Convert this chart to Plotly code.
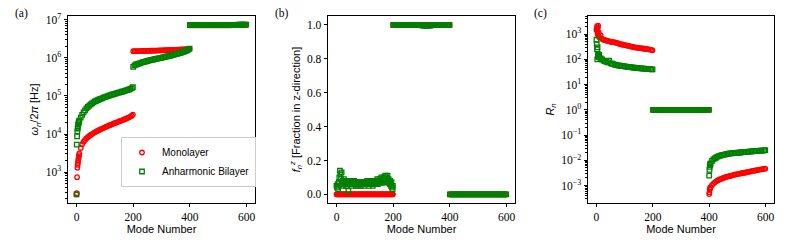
import plotly.graph_objects as go

# ---------------- data ----------------
# mode numbers for each segment
m_lo = [0, 1, 2, 3, 4, 5, 6, 7, 8, 9] + list(range(10, 200, 5)) + [199]
m_mid = list(range(200, 400, 5)) + [399]
m_hi = list(range(400, 600, 5)) + [599]
m_hi_c = [400, 401, 402, 403, 404] + list(range(405, 600, 5)) + [599]
m_b_lo = list(range(0, 200, 2)) + [199]

# (a) omega_n / 2pi [Hz]
a_mono_lo = [260, 280, 740, 1300, 1550, 1750, 2000, 2250, 2500, 2800,
             3100, 4300, 5400, 6300, 7000, 7700, 8300, 8900, 9500, 10000,
             10600, 11100, 11700, 12200, 12800, 13300, 13900, 14400, 15000, 15600,
             16200, 16800, 17400, 18000, 18700, 19300, 20000, 20700, 21400, 22100,
             22900, 23700, 24500, 25400, 26400, 27500, 28800, 30300, 32500]
a_bi_lo = [260, 5300, 8700, 11800, 14000, 15800, 17500, 19000, 20500, 21500,
           22500, 27000, 32000, 37000, 42000, 47000, 52000, 56000, 60000, 64000,
           68000, 72000, 75000, 78000, 81000, 84000, 87000, 90000, 93000, 96000,
           99000, 102000, 105000, 108000, 111000, 114000, 117000, 120000, 123000, 126000,
           129000, 132000, 136000, 140000, 144000, 148000, 153000, 160000, 170000]
a_mono_mid = [1.50e6, 1.50e6, 1.50e6, 1.51e6, 1.51e6, 1.51e6, 1.52e6, 1.52e6, 1.52e6, 1.53e6,
              1.53e6, 1.53e6, 1.54e6, 1.54e6, 1.55e6, 1.55e6, 1.56e6, 1.56e6, 1.57e6, 1.57e6,
              1.58e6, 1.58e6, 1.59e6, 1.59e6, 1.60e6, 1.60e6, 1.61e6, 1.61e6, 1.62e6, 1.62e6,
              1.63e6, 1.64e6, 1.64e6, 1.65e6, 1.66e6, 1.67e6, 1.68e6, 1.69e6, 1.70e6, 1.71e6,
              1.72e6]
a_bi_mid = [5.8e5, 6.4e5, 6.7e5, 6.9e5, 7.1e5, 7.3e5, 7.5e5, 7.7e5, 7.9e5, 8.1e5,
            8.3e5, 8.5e5, 8.7e5, 8.85e5, 9.0e5, 9.2e5, 9.4e5, 9.55e5, 9.7e5, 9.85e5,
            1.00e6, 1.03e6, 1.05e6, 1.07e6, 1.09e6, 1.11e6, 1.14e6, 1.16e6, 1.19e6, 1.22e6,
            1.25e6, 1.28e6, 1.31e6, 1.34e6, 1.38e6, 1.42e6, 1.46e6, 1.51e6, 1.57e6, 1.64e6,
            1.75e6]
a_mono_hi = [7.20e6, 7.20e6, 7.20e6, 7.20e6, 7.20e6, 7.20e6, 7.20e6, 7.20e6, 7.20e6, 7.20e6,
             7.20e6, 7.20e6, 7.20e6, 7.20e6, 7.20e6, 7.20e6, 7.20e6, 7.20e6, 7.20e6, 7.20e6,
             7.20e6, 7.20e6, 7.20e6, 7.20e6, 7.20e6, 7.20e6, 7.20e6, 7.20e6, 7.20e6, 7.20e6,
             7.21e6, 7.22e6, 7.23e6, 7.24e6, 7.25e6, 7.26e6, 7.27e6, 7.28e6, 7.29e6, 7.30e6,
             7.30e6]
a_bi_hi = [7.30e6, 7.30e6, 7.30e6, 7.30e6, 7.30e6, 7.30e6, 7.30e6, 7.30e6, 7.30e6, 7.30e6,
           7.30e6, 7.30e6, 7.30e6, 7.30e6, 7.31e6, 7.31e6, 7.31e6, 7.31e6, 7.32e6, 7.32e6,
           7.32e6, 7.32e6, 7.33e6, 7.33e6, 7.33e6, 7.34e6, 7.34e6, 7.35e6, 7.35e6, 7.36e6,
           7.37e6, 7.38e6, 7.39e6, 7.40e6, 7.41e6, 7.42e6, 7.43e6, 7.45e6, 7.47e6, 7.50e6,
           7.50e6]

# (b) fraction in z-direction
b_mono_lo = [0.00, 0.00, 0.00, 0.00, 0.00, 0.00, 0.00, 0.00, 0.00, 0.00,
             0.00, 0.00, 0.00, 0.00, 0.00, 0.00, 0.00, 0.00, 0.00, 0.00,
             0.00, 0.00, 0.00, 0.00, 0.00, 0.00, 0.00, 0.00, 0.00, 0.00,
             0.00, 0.00, 0.00, 0.00, 0.00, 0.00, 0.00, 0.00, 0.00, 0.00,
             0.00, 0.00, 0.00, 0.00, 0.00, 0.00, 0.00, 0.00, 0.00, 0.00,
             0.00, 0.00, 0.00, 0.00, 0.00, 0.00, 0.00, 0.00, 0.00, 0.00,
             0.00, 0.00, 0.00, 0.00, 0.00, 0.00, 0.00, 0.00, 0.00, 0.00,
             0.00, 0.00, 0.00, 0.00, 0.00, 0.00, 0.00, 0.00, 0.00, 0.00,
             0.00, 0.00, 0.00, 0.00, 0.00, 0.00, 0.00, 0.00, 0.00, 0.00,
             0.00, 0.00, 0.00, 0.00, 0.00, 0.00, 0.00, 0.00, 0.00, 0.00,
             0.00]
b_bi_lo = [0.05, 0.04, 0.06, 0.03, 0.07, 0.10, 0.14, 0.12, 0.09, 0.13,
           0.06, 0.08, 0.05, 0.09, 0.07, 0.06, 0.08, 0.05, 0.07, 0.06,
           0.08, 0.02, 0.07, 0.06, 0.08, 0.06, 0.07, 0.05, 0.07, 0.06,
           0.07, 0.08, 0.06, 0.07, 0.05, 0.07, 0.06, 0.07, 0.05, 0.07,
           0.06, 0.07, 0.06, 0.05, 0.07, 0.06, 0.07, 0.06, 0.07, 0.05,
           0.07, 0.06, 0.07, 0.06, 0.08, 0.06, 0.07, 0.05, 0.07, 0.06,
           0.07, 0.08, 0.06, 0.07, 0.05, 0.08, 0.06, 0.07, 0.08, 0.06,
           0.08, 0.07, 0.09, 0.06, 0.08, 0.07, 0.09, 0.07, 0.08, 0.10,
           0.07, 0.09, 0.08, 0.10, 0.07, 0.09, 0.11, 0.08, 0.10, 0.09,
           0.11, 0.08, 0.09, 0.07, 0.06, 0.08, 0.05, 0.07, 0.04, 0.03,
           0.05]
b_mono_mid = [1.0, 1.0, 1.0, 1.0, 1.0, 1.0, 1.0, 1.0, 1.0, 1.0,
              1.0, 1.0, 1.0, 1.0, 1.0, 1.0, 1.0, 1.0, 1.0, 1.0,
              1.0, 1.0, 1.0, 1.0, 1.0, 1.0, 1.0, 1.0, 1.0, 1.0,
              1.0, 1.0, 1.0, 1.0, 1.0, 1.0, 1.0, 1.0, 1.0, 1.0,
              1.0]
b_bi_mid = [1.0, 1.0, 1.0, 1.0, 1.0, 1.0, 1.0, 1.0, 1.0, 1.0,
            1.0, 1.0, 1.0, 1.0, 1.0, 1.0, 1.0, 1.0, 1.0, 1.0,
            0.998, 0.997, 0.996, 0.995, 0.995, 0.996, 0.997, 0.998, 1.0, 1.0,
            1.0, 1.0, 1.0, 1.0, 1.0, 1.0, 1.0, 1.0, 1.0, 1.0,
            1.0]
b_mono_hi = [0.0, 0.0, 0.0, 0.0, 0.0, 0.0, 0.0, 0.0, 0.0, 0.0,
             0.0, 0.0, 0.0, 0.0, 0.0, 0.0, 0.0, 0.0, 0.0, 0.0,
             0.0, 0.0, 0.0, 0.0, 0.0, 0.0, 0.0, 0.0, 0.0, 0.0,
             0.0, 0.0, 0.0, 0.0, 0.0, 0.0, 0.0, 0.0, 0.0, 0.0,
             0.0]
b_bi_hi = [0.0, 0.0, 0.0, 0.0, 0.0, 0.0, 0.0, 0.0, 0.0, 0.0,
           0.0, 0.0, 0.0, 0.0, 0.0, 0.0, 0.0, 0.0, 0.0, 0.0,
           0.0, 0.0, 0.0, 0.0, 0.0, 0.0, 0.0, 0.0, 0.0, 0.0,
           0.0, 0.0, 0.0, 0.0, 0.0, 0.0, 0.0, 0.0, 0.0, 0.0,
           0.0]

# (c) R_n
c_mono_lo = [1500, 1700, 2100, 1300, 1000, 1800, 2200, 900, 1200, 800,
             750, 900, 650, 600, 580, 560, 540, 520, 500, 490,
             480, 470, 460, 440, 420, 400, 390, 380, 370, 360,
             350, 340, 330, 320, 310, 300, 295, 290, 285, 280,
             275, 270, 265, 260, 255, 250, 245, 240, 230]
c_bi_lo = [600, 400, 250, 100, 300, 130, 160, 150, 140, 120,
           150, 110, 100, 90, 85, 80, 76, 90, 70, 68,
           65, 62, 60, 58, 57, 56, 55, 54, 53, 52,
           51, 50, 49, 48, 47, 47, 46, 45, 45, 44,
           44, 43, 43, 42, 42, 41, 41, 40, 40]
c_mono_mid = [1.0, 1.0, 1.0, 1.0, 1.0, 1.0, 1.0, 1.0, 1.0, 1.0,
              1.0, 1.0, 1.0, 1.0, 1.0, 1.0, 1.0, 1.0, 1.0, 1.0,
              1.0, 1.0, 1.0, 1.0, 1.0, 1.0, 1.0, 1.0, 1.0, 1.0,
              1.0, 1.0, 1.0, 1.0, 1.0, 1.0, 1.0, 1.0, 1.0, 1.0,
              1.0]
c_bi_mid = [1.0, 1.0, 1.0, 1.0, 1.0, 1.0, 1.0, 1.0, 1.0, 1.0,
            1.0, 1.0, 1.0, 1.0, 1.0, 1.0, 1.0, 1.0, 1.0, 1.0,
            1.0, 1.0, 1.0, 1.0, 1.0, 1.0, 1.0, 1.0, 1.0, 1.0,
            1.0, 1.0, 1.0, 1.0, 1.0, 1.0, 1.0, 1.0, 1.0, 1.0,
            1.0]
c_mono_hi = [4.6e-4, 5.5e-4, 7.0e-4, 7.8e-4, 8.2e-4,
             8.5e-4, 1.05e-3, 1.2e-3, 1.35e-3, 1.48e-3, 1.6e-3, 1.7e-3, 1.8e-3, 1.9e-3, 2.0e-3,
             2.1e-3, 2.2e-3, 2.28e-3, 2.35e-3, 2.42e-3, 2.5e-3, 2.6e-3, 2.7e-3, 2.78e-3, 2.85e-3,
             2.92e-3, 3.0e-3, 3.08e-3, 3.15e-3, 3.22e-3, 3.3e-3, 3.4e-3, 3.5e-3, 3.6e-3, 3.7e-3,
             3.8e-3, 3.9e-3, 4.0e-3, 4.1e-3, 4.2e-3, 4.3e-3, 4.4e-3, 4.5e-3, 4.6e-3, 4.7e-3]
c_bi_hi = [2.5e-3, 4.2e-3, 5.5e-3, 6.5e-3, 7.0e-3,
           7.5e-3, 9.5e-3, 1.1e-2, 1.2e-2, 1.3e-2, 1.4e-2, 1.48e-2, 1.55e-2, 1.6e-2, 1.65e-2,
           1.7e-2, 1.75e-2, 1.8e-2, 1.85e-2, 1.88e-2, 1.9e-2, 1.93e-2, 1.95e-2, 1.98e-2, 2.0e-2,
           2.03e-2, 2.05e-2, 2.08e-2, 2.1e-2, 2.13e-2, 2.15e-2, 2.18e-2, 2.2e-2, 2.23e-2, 2.25e-2,
           2.28e-2, 2.3e-2, 2.33e-2, 2.35e-2, 2.38e-2, 2.4e-2, 2.43e-2, 2.45e-2, 2.5e-2, 2.55e-2]

series_names = ["Monolayer", "Anharmonic Bilayer"]
panel_labels = ["(a)", "(b)", "(c)"]
x_title = "Mode Number"
y_titles = ["<i>ω<sub>n</sub></i>/2<i>π</i> [Hz]",
            "<i>f</i><sub><i>n</i></sub><sup><i>z</i></sup> [Fraction in z-direction]",
            "<i>R<sub>n</sub></i>"]
a_decades = [3, 4, 5, 6, 7]
c_decades = [-3, -2, -1, 0, 1, 2, 3]
b_ticks = [0.0, 0.2, 0.4, 0.6, 0.8, 1.0]
x_ticks = [0, 200, 400, 600]

# ---------------- styling ----------------
W, H = 789, 243
RED = "#ff0000"
GREEN = "#008000"
SERIF = "Liberation Serif, DejaVu Serif, serif"
SANS = "Liberation Sans, DejaVu Sans, sans-serif"

fig = go.Figure()


def px2x(p):
    return p / W


def px2y(p):
    return 1 - p / H


panels_px = [(68, 255), (328, 515), (588, 774)]
top_px, bot_px = 16, 203


def add(xs, ys, k, series, showlegend=False):
    symbol = "circle-open" if series == 0 else "square-open"
    color = RED if series == 0 else GREEN
    fig.add_trace(go.Scatter(
        x=xs, y=ys, mode="markers", name=series_names[series],
        legendgroup=series_names[series], showlegend=showlegend,
        marker=dict(symbol=symbol, size=4.5, color=color, line=dict(width=1.3, color=color)),
        xaxis="x" if k == 0 else f"x{k+1}", yaxis="y" if k == 0 else f"y{k+1}",
    ))


# panel a
add(m_lo, a_mono_lo, 0, 0, True)
add(m_mid, a_mono_mid, 0, 0)
add(m_hi, a_mono_hi, 0, 0)
add(m_lo, a_bi_lo, 0, 1, True)
add(m_mid, a_bi_mid, 0, 1)
add(m_hi, a_bi_hi, 0, 1)
# panel b
add(m_b_lo, b_mono_lo, 1, 0)
add(m_mid, b_mono_mid, 1, 0)
add(m_hi, b_mono_hi, 1, 0)
add(m_b_lo, b_bi_lo, 1, 1)
add(m_mid, b_bi_mid, 1, 1)
add(m_hi, b_bi_hi, 1, 1)
# panel c
add(m_lo, c_mono_lo, 2, 0)
add(m_mid, c_mono_mid, 2, 0)
add(m_hi_c, c_mono_hi, 2, 0)
add(m_lo, c_bi_lo, 2, 1)
add(m_mid, c_bi_mid, 2, 1)
add(m_hi_c, c_bi_hi, 2, 1)

axis_common = dict(showline=True, linecolor="black", linewidth=0.8, mirror=True,
                   ticks="outside", ticklen=3.5, tickwidth=0.8, tickcolor="black",
                   showgrid=False, zeroline=False, automargin=False,
                   tickfont=dict(family=SERIF, size=11.5, color="black"))


def pow_label(e):
    s = str(e).replace("-", "\u2212")
    return f"10<sup>{s}</sup>"


def minor_vals(decades_lo, decades_hi):
    vals = []
    for e in range(decades_lo, decades_hi + 1):
        for d in range(2, 10):
            vals.append(d * 10.0 ** e)
    return vals


layout = dict(width=W, height=H, margin=dict(l=0, r=0, t=0, b=0, autoexpand=False),
              paper_bgcolor="white", plot_bgcolor="white", showlegend=True,
              legend=dict(x=px2x(121), y=px2y(137), xanchor="left", yanchor="top",
                          bgcolor="white", bordercolor="#cccccc", borderwidth=1,
                          font=dict(family=SANS, size=10, color="black"),
                          itemwidth=30, tracegroupgap=0))

yranges = [[2.19, 7.10], [-0.051, 1.053], [-3.69, 3.72]]
for k, (l, r) in enumerate(panels_px):
    xs = "xaxis" if k == 0 else f"xaxis{k+1}"
    ys = "yaxis" if k == 0 else f"yaxis{k+1}"
    ya = "y" if k == 0 else f"y{k+1}"
    xa = "x" if k == 0 else f"x{k+1}"
    layout[xs] = dict(axis_common, domain=[px2x(l), px2x(r)], range=[-30, 630],
                      tickvals=x_ticks, anchor=ya,
                      title=dict(text=x_title, font=dict(family=SANS, size=11, color="black"),
                                 standoff=3))
    yd = dict(axis_common, domain=[px2y(bot_px), px2y(top_px)], range=yranges[k], anchor=xa,
              title=dict(text=y_titles[k], font=dict(family=SANS, size=11, color="black"),
                         standoff=4))
    if k == 1:
        yd.update(tickvals=b_ticks, tickformat=".1f")
    else:
        dec = a_decades if k == 0 else c_decades
        yd.update(type="log", tickvals=[10.0 ** e for e in dec],
                  ticktext=[pow_label(e) for e in dec],
                  minor=dict(ticks="outside", ticklen=2, tickwidth=0.6, tickcolor="black",
                             tickvals=minor_vals(dec[0] - 1, dec[-1]), showgrid=False))
    layout[ys] = yd

fig.update_layout(**layout)

for k, lab in enumerate(panel_labels):
    fig.add_annotation(text=lab, x=px2x([13, 273, 532][k]), y=px2y(14), xref="paper", yref="paper",
                       xanchor="left", yanchor="middle", showarrow=False,
                       font=dict(family=SERIF, size=11.5, color="black"))

fig.write_html("out.html", config={"displayModeBar": False},
               post_script="document.body.style.margin='0';document.body.style.padding='0';")
